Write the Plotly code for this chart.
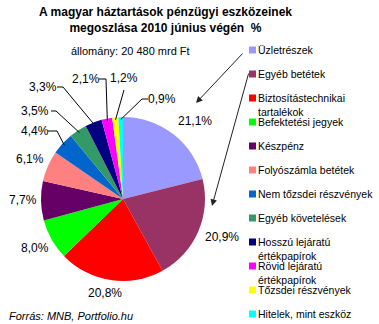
import math
import textwrap
import plotly.graph_objects as go

# ---------------- data ----------------
labels = ["Üzletrészek", "Egyéb betétek", "Biztosítástechnikai tartalékok",
          "Befektetési jegyek", "Készpénz", "Folyószámla betétek",
          "Nem tőzsdei részvények", "Egyéb követelések",
          "Hosszú lejáratú értékpapírok", "Rövid lejáratú értékpapírok",
          "Tőzsdei részvények", "Hitelek, mint eszköz"]
values = [21.1, 20.9, 20.8, 8.0, 7.7, 6.1, 4.4, 3.5, 3.3, 2.1, 1.2, 0.9]
colors = ["#9999FF", "#993366", "#FF0000", "#00FF00", "#660066", "#FF8080",
          "#0066CC", "#339966", "#000080", "#FF00FF", "#FFFF00", "#00FFFF"]
title_lines = ["A magyar háztartások pénzügyi eszközeinek",
               "megoszlása 2010 június végén  %"]
subtitle = "állomány: 20 480 mrd Ft"
source = "Forrás: MNB, Portfolio.hu"

# ---------------- layout (pixels) ----------------
W, H = 379, 324
CX, CY, R = 123, 199, 82
FONT = "Arial, Liberation Sans, sans-serif"

# label text centres per slice
label_pos = [(195, 121), (222, 237), (105, 293), (35, 248), (23, 200), (30, 159),
             (35, 131), (35, 111), (43, 87), (86, 79), (124, 78), (162, 99)]
# leader line points (before reaching the slice edge)
leaders = {6: [(48, 131), (57, 131)], 7: [(51, 111), (56, 111)],
           8: [(57, 87), (63, 87)], 9: [(99, 79), (106, 79)],
           10: [(124, 90)], 11: [(148, 99), (142, 99)]}

def px(x):
    return x / W

def py(y):
    return 1 - y / H

fig = go.Figure()
fig.add_trace(go.Pie(
    labels=labels, values=values, sort=False, direction="clockwise", rotation=0,
    marker=dict(colors=colors, line=dict(width=0)), textinfo="none",
    showlegend=False,
    domain=dict(x=[px(CX - R), px(CX + R)], y=[py(CY + R), py(CY - R)]),
))

annotations = []
shapes = []

# percentage labels and leader lines computed from data
total = sum(values)
cum = 0.0
for i, v in enumerate(values):
    mid = (cum + v / 2) / total * 2 * math.pi
    cum += v
    ex = CX + R * 0.97 * math.sin(mid)
    ey = CY - R * 0.97 * math.cos(mid)
    tx, ty = label_pos[i]
    annotations.append(dict(x=px(tx), y=py(ty), xref="paper", yref="paper",
                            text=f"{v:.1f}".replace(".", ",") + "%",
                            showarrow=False, xanchor="center", yanchor="middle",
                            font=dict(family=FONT, size=12, color="black")))
    if i in leaders:
        pts = leaders[i] + [(ex, ey)]
        path = "M " + " L ".join(f"{px(a):.5f},{py(b):.5f}" for a, b in pts)
        shapes.append(dict(type="path", path=path, xref="paper", yref="paper",
                           line=dict(color="black", width=1)))

# manual legend
leg_y = [50, 74, 98, 122, 146, 170, 194, 218, 242, 266, 290, 314]
for i, (lab, col) in enumerate(zip(labels, colors)):
    y = leg_y[i]
    shapes.append(dict(type="rect", xref="paper", yref="paper",
                       x0=px(249), x1=px(256), y0=py(y + 3.5), y1=py(y - 3.5),
                       fillcolor=col, line=dict(width=0)))
    annotations.append(dict(x=px(256), y=py(y - 8), xref="paper", yref="paper",
                            text="<br>".join(textwrap.wrap(lab, 23)),
                            showarrow=False, xanchor="left", yanchor="top",
                            align="left",
                            font=dict(family=FONT, size=10.5, color="black")))

# arrows from legend to slices
annotations.append(dict(x=px(196), y=py(103), xref="paper", yref="paper", text="",
                        showarrow=True, ax=48, ay=-51, arrowhead=2, arrowsize=1.3,
                        arrowwidth=1, arrowcolor="#222"))
annotations.append(dict(x=px(212), y=py(206), xref="paper", yref="paper", text="",
                        showarrow=True, ax=37, ay=-134, arrowhead=2, arrowsize=1.3,
                        arrowwidth=1, arrowcolor="#222"))

# titles
annotations.append(dict(x=px(165), y=py(3), xref="paper", yref="paper",
                        text="<br>".join(f"<b>{t}</b>" for t in title_lines),
                        showarrow=False, xanchor="center", yanchor="top",
                        font=dict(family=FONT, size=12, color="black")))
annotations.append(dict(x=px(130), y=py(51), xref="paper", yref="paper",
                        text=subtitle, showarrow=False, xanchor="center",
                        yanchor="middle",
                        font=dict(family=FONT, size=11, color="black")))
annotations.append(dict(x=px(7), y=py(316), xref="paper", yref="paper",
                        text=f"<i>{source}</i>", showarrow=False, xanchor="left",
                        yanchor="middle",
                        font=dict(family=FONT, size=11, color="black")))

fig.update_layout(width=W, height=H, margin=dict(l=0, r=0, t=0, b=0),
                  paper_bgcolor="white", plot_bgcolor="white",
                  annotations=annotations, shapes=shapes)

fig.write_html("out.html")
